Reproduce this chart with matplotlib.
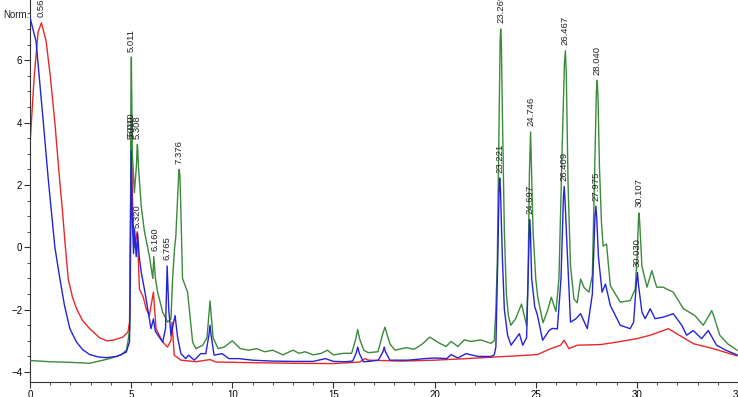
import matplotlib
matplotlib.use("Agg")
import matplotlib.pyplot as plt
from matplotlib.ticker import MultipleLocator

# ---- data ----
rt_green = [0.0, 0.98, 2.0, 2.95, 3.93, 4.5, 4.76, 4.84, 4.93, 4.97, 4.99, 5.011, 5.03, 5.06, 5.16, 5.26,
            5.29, 5.308, 5.33, 5.36, 5.5, 5.66, 5.9, 6.07, 6.12, 6.2, 6.31, 6.56, 6.8, 6.97, 7.05, 7.15,
            7.21, 7.3, 7.35, 7.376, 7.41, 7.45, 7.54, 7.79, 8.04, 8.2, 8.54, 8.75, 8.85, 8.9, 8.95, 9.05,
            9.3, 9.6, 10.0, 10.4, 10.8, 11.2, 11.6, 12.0, 12.5, 13.0, 13.3, 13.6, 14.0, 14.4, 14.7, 15.0,
            15.5, 15.9, 16.1, 16.2, 16.3, 16.5, 16.72, 17.2, 17.45, 17.55, 17.65, 17.8, 18.04, 18.6, 18.99,
            19.4, 19.76, 20.25, 20.57, 20.82, 21.15, 21.47, 21.8, 22.29, 22.79, 22.95, 23.03, 23.1, 23.18,
            23.24, 23.269, 23.3, 23.36, 23.45, 23.55, 23.65, 23.77, 24.0, 24.3, 24.55, 24.62, 24.69,
            24.746, 24.79, 24.87, 25.0, 25.1, 25.36, 25.6, 25.77, 26.0, 26.15, 26.3, 26.42, 26.467,
            26.51, 26.6, 26.72, 26.89, 27.05, 27.22, 27.4, 27.63, 27.8, 27.9, 28.0, 28.04, 28.08, 28.15,
            28.25, 28.33, 28.5, 28.69, 29.18, 29.67, 29.92, 30.02, 30.08, 30.107, 30.14, 30.25, 30.5,
            30.74, 30.98, 31.3, 31.8, 32.3, 32.87, 33.28, 33.6, 33.7, 33.8, 34.1, 34.5, 34.95]
sig_green = [-3.63, -3.67, -3.69, -3.72, -3.57, -3.45, -3.3, -3.04, -2.6, 1.0, 5.0, 6.1, 5.0, 3.0, 1.75, 2.6,
             3.1, 3.3, 3.1, 2.6, 1.3, 0.5, -0.28, -1.0, -0.3, -1.0, -1.44, -2.08, -2.4, -2.3, -1.0, 0.0,
             0.36, 1.6, 2.35, 2.5, 2.3, 1.4, -1.0, -1.44, -3.04, -3.25, -3.14, -2.9, -2.1, -1.72, -2.1,
             -2.9, -3.25, -3.2, -3.0, -3.25, -3.3, -3.25, -3.35, -3.3, -3.45, -3.3, -3.4, -3.35, -3.45,
             -3.4, -3.3, -3.45, -3.4, -3.4, -2.95, -2.64, -2.95, -3.3, -3.38, -3.35, -2.75, -2.56, -2.8,
             -3.1, -3.3, -3.22, -3.27, -3.1, -2.88, -3.08, -3.18, -3.02, -3.18, -2.97, -3.02, -2.97, -3.08,
             -3.0, -2.0, -0.5, 3.5, 6.6, 7.0, 6.6, 4.0, 0.5, -1.5, -2.2, -2.5, -2.3, -1.82, -2.51, -1.0,
             2.4, 3.7, 2.6, 0.5, -1.0, -1.6, -2.42, -2.0, -1.6, -2.06, -1.0, 3.0, 5.9, 6.3, 5.6, 2.0,
             -0.6, -1.66, -1.78, -1.02, -1.3, -1.44, -0.9, 2.0, 5.0, 5.35, 4.8, 2.6, 0.8, 0.04, 0.1, -1.23,
             -1.76, -1.71, -1.34, -0.2, 0.9, 1.1, 0.8, -0.6, -1.28, -0.75, -1.28, -1.28, -1.44, -1.97,
             -2.19, -2.5, -2.15, -2.03, -2.2, -2.82, -3.1, -3.3]

rt_blue = [0.0, 0.3, 0.66, 0.9, 1.23, 1.45, 1.7, 1.97, 2.3, 2.6, 2.95, 3.4, 3.77, 4.3, 4.76, 4.92, 4.96, 5.0,
           5.05, 5.12, 5.17, 5.25, 5.32, 5.4, 5.5, 5.7, 5.98, 6.1, 6.2, 6.56, 6.7, 6.78, 6.86, 6.97, 7.17,
           7.3, 7.46, 7.7, 7.84, 8.12, 8.44, 8.69, 8.85, 8.9, 8.95, 9.1, 9.5, 9.83, 10.32, 10.99, 12.0,
           13.0, 14.0, 14.6, 15.0, 15.6, 15.95, 16.12, 16.2, 16.28, 16.48, 16.72, 17.22, 17.45, 17.51,
           17.57, 17.79, 18.7, 19.51, 20.0, 20.6, 20.82, 21.15, 21.56, 22.13, 22.79, 22.95, 23.03, 23.12,
           23.19, 23.221, 23.26, 23.35, 23.45, 23.61, 23.78, 24.19, 24.36, 24.55, 24.64, 24.697, 24.74,
           24.8, 24.95, 25.09, 25.34, 25.66, 25.82, 26.07, 26.25, 26.37, 26.409, 26.45, 26.55, 26.72,
           26.97, 27.22, 27.55, 27.8, 27.93, 27.975, 28.02, 28.1, 28.28, 28.45, 28.69, 29.18, 29.67,
           29.84, 29.98, 30.030, 30.08, 30.25, 30.41, 30.66, 30.9, 31.31, 31.8, 32.22, 32.46, 32.79,
           33.2, 33.53, 33.94, 34.4, 34.95]
sig_blue = [7.37, 6.6, 4.0, 2.2, 0.0, -0.9, -1.85, -2.61, -3.04, -3.28, -3.44, -3.52, -3.54, -3.5, -3.36,
            -3.03, -1.0, 3.1, 1.0, -0.2, 0.57, -0.3, 0.45, -0.3, -0.8, -1.5, -2.61, -2.3, -2.7, -3.04, -2.6,
            -0.6, -2.0, -2.82, -2.19, -2.9, -3.41, -3.57, -3.46, -3.62, -3.41, -3.41, -2.8, -2.5, -2.8,
            -3.46, -3.41, -3.57, -3.57, -3.62, -3.65, -3.66, -3.66, -3.57, -3.66, -3.67, -3.65, -3.4, -3.2,
            -3.4, -3.67, -3.66, -3.62, -3.35, -3.2, -3.35, -3.62, -3.62, -3.57, -3.55, -3.57, -3.44, -3.55,
            -3.41, -3.5, -3.5, -3.45, -3.2, -0.5, 1.9, 2.22, 1.8, -0.3, -2.0, -2.82, -3.14, -2.77, -3.14,
            -2.9, -0.5, 0.89, 0.5, -1.0, -1.9, -2.19, -2.98, -2.67, -2.6, -2.62, -1.0, 1.6, 1.95, 1.5, 0.0,
            -2.4, -2.3, -2.13, -2.61, -1.5, 1.0, 1.32, 0.9, -0.3, -1.44, -1.18, -1.87, -2.5, -2.61, -2.4,
            -1.1, -0.81, -1.2, -2.08, -2.29, -1.97, -2.29, -2.24, -2.13, -2.5, -2.82, -2.67, -2.93, -2.67,
            -3.14, -3.3, -3.45]

rt_red = [0.0, 0.2, 0.4, 0.565, 0.8, 1.0, 1.23, 1.42, 1.6, 1.75, 1.89, 2.1, 2.3, 2.6, 2.95, 3.44, 3.8, 4.1,
          4.59, 4.84, 4.92, 4.96, 5.010, 5.08, 5.15, 5.3, 5.41, 5.6, 5.74, 5.9, 6.1, 6.23, 6.56, 6.8, 6.97,
          7.02, 7.13, 7.46, 8.2, 8.9, 9.2, 11.0, 13.0, 15.0, 16.3, 16.56, 16.72, 18.36, 20.0, 21.6, 22.95,
          24.1, 25.09, 25.74, 26.23, 26.4, 26.64, 27.05, 28.2, 29.02, 30.0, 30.66, 31.56, 31.97, 32.79,
          33.77, 34.95]
sig_red = [3.3, 5.4, 6.9, 7.2, 6.6, 5.5, 4.0, 2.5, 1.2, 0.0, -1.02, -1.6, -1.97, -2.35, -2.61, -2.9, -3.0,
           -2.98, -2.88, -2.72, -2.4, 0.5, 3.4, 1.2, 0.0, 0.5, -1.34, -1.6, -1.97, -2.19, -1.44, -2.61,
           -3.04, -3.2, -2.98, -2.4, -3.46, -3.62, -3.67, -3.6, -3.68, -3.7, -3.72, -3.73, -3.68, -3.57,
           -3.62, -3.65, -3.62, -3.57, -3.52, -3.48, -3.44, -3.25, -3.14, -2.98, -3.25, -3.14, -3.12,
           -3.04, -2.93, -2.82, -2.61, -2.77, -3.09, -3.25, -3.48]

# peak annotations: (retention time, height, label)
peak_rt = [0.565, 5.011, 5.010, 5.013, 5.308, 5.320, 6.160, 6.765, 7.376, 23.269, 23.221, 24.746,
           24.697, 26.467, 26.409, 28.040, 27.975, 30.107, 30.030]
peak_h = [7.2, 6.1, 3.4, 3.3, 3.3, 0.45, -0.3, -0.6, 2.5, 7.0, 2.22, 3.7, 0.89, 6.3, 1.95, 5.35,
          1.32, 1.1, -0.81]
peak_lbl = ["0.565", "5.011", "5.010", "5.010", "5.308", "5.320", "6.160", "6.765", "7.376", "23.269",
            "23.221", "24.746", "24.697", "26.467", "26.409", "28.040", "27.975", "30.107", "30.030"]

x_ticks = [0, 5, 10, 15, 20, 25, 30, 35]
y_ticks = [-4, -2, 0, 2, 4, 6]

plt.rcParams["font.family"] = ["Liberation Sans", "DejaVu Sans"]

# ---- figure ----
fig = plt.figure(figsize=(7.38, 3.97), dpi=100)
ax = fig.add_axes([30 / 738, 15 / 397, 1 - 30 / 738, 1 - 15 / 397])

ax.plot(rt_green, sig_green, color="#3a8a3a", lw=1.0, zorder=3)
ax.plot(rt_blue, sig_blue, color="#2323d8", lw=1.0, zorder=4)
ax.plot(rt_red, sig_red, color="#e82828", lw=1.0, zorder=2)

for x, y, t in zip(peak_rt, peak_h, peak_lbl):
    ax.annotate(t, xy=(x, y), xytext=(0, 4), textcoords="offset points",
                rotation=90, ha="center", va="bottom", fontsize=6.8, color="#222222", zorder=6)

ax.set_xlim(0, 34.93)
ax.set_ylim(-4.32, 7.93)
ax.set_xticks(x_ticks)
ax.set_yticks(y_ticks)
ax.xaxis.set_minor_locator(MultipleLocator(1))
ax.yaxis.set_minor_locator(MultipleLocator(0.5))
ax.tick_params(axis="both", which="major", labelsize=7, length=4, width=0.8, pad=1.5, color="#333333")
ax.tick_params(axis="both", which="minor", length=2.5, width=0.6, color="#333333")
for s in ["top", "right"]:
    ax.spines[s].set_visible(False)
for s in ["left", "bottom"]:
    ax.spines[s].set_linewidth(0.8)
    ax.spines[s].set_color("#333333")

fig.text(3 / 738, 1 - 18 / 397, "Norm.", fontsize=7, color="#222222")

fig.savefig("out.png", dpi=100)
